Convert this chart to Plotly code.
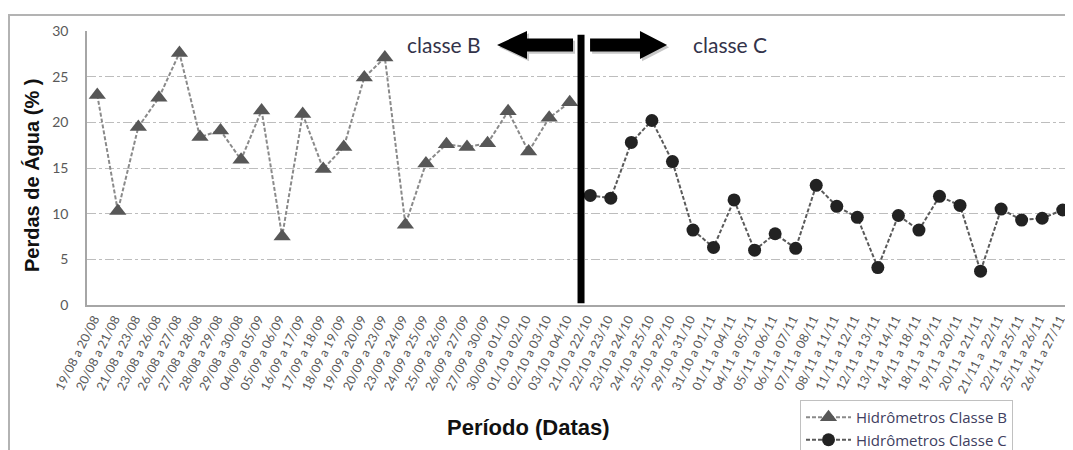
import plotly.graph_objects as go

categories = [
    "19/08 a 20/08", "20/08 a 21/08", "21/08 a 23/08", "23/08 a 26/08",
    "26/08 a 27/08", "27/08 a 28/08", "28/08 a 29/08", "29/08 a 30/08",
    "04/09 a 05/09", "05/09 a 06/09", "16/09 a 17/09", "17/09 a 18/09",
    "18/09 a 19/09", "19/09 a 20/09", "20/09 a 23/09", "23/09 a 24/09",
    "24/09 a 25/09", "25/09 a 26/09", "26/09 a 27/09", "27/09 a 30/09",
    "30/09 a 01/10", "01/10 a 02/10", "02/10 a 03/10", "03/10 a 04/10",
    "21/10 a 22/10", "22/10 a 23/10", "23/10 a 24/10", "24/10 a 25/10",
    "25/10 a 29/10", "29/10 a 31/10", "31/10 a 01/11", "01/11 a 04/11",
    "04/11 a 05/11", "05/11 a 06/11", "06/11 a 07/11", "07/11 a 08/11",
    "08/11 a 11/11", "11/11 a 12/11", "12/11 a 13/11", "13/11 a 14/11",
    "14/11 a 18/11", "18/11 a 19/11", "19/11 a 20/11", "20/11 a 21/11",
    "21/11 a \u00a022/11", "22/11 a 25/11", "25/11 a 26/11", "26/11 a 27/11",
]

cats_b = categories[:24]
cats_c = categories[24:]

classe_b = [23.0, 10.3, 19.5, 22.7, 27.6, 18.4, 19.1, 15.9, 21.3, 7.5, 20.9, 14.9,
            17.3, 24.9, 27.1, 8.8, 15.5, 17.6, 17.3, 17.7, 21.2, 16.8, 20.5, 22.2]
classe_c = [12.0, 11.7, 17.8, 20.2, 15.7, 8.2, 6.3, 11.5, 6.0, 7.8, 6.2, 13.1,
            10.8, 9.6, 4.1, 9.8, 8.2, 11.9, 10.9, 3.7, 10.5, 9.3, 9.5, 10.4]

y_ticks = [0, 5, 10, 15, 20, 25, 30]

FONT = "Lato"
TXT = "#595959"

# page body adds an 8px offset; figure is sized to fit the 1073x450 window
OFF = 8
W, H = 1073 - OFF, 450 - OFF
L, R, T = 87 - OFF, 0, 31 - OFF
B = H - (305 - OFF)
pw, ph = W - L - R, H - T - B


def px_x(p):
    return (p - OFF - L) / pw


def px_y(p):
    return (H - B - (p - OFF)) / ph


fig = go.Figure()
fig.add_trace(go.Scatter(
    x=cats_b, y=classe_b, mode="lines+markers", name="Hidrômetros Classe B",
    line=dict(color="#8a8a8a", width=2, dash="4px,2px"),
    marker=dict(symbol="triangle-up", size=15, color="#575757"),
))
fig.add_trace(go.Scatter(
    x=cats_c, y=classe_c, mode="lines+markers", name="Hidrômetros Classe C",
    line=dict(color="#5a5a5a", width=2, dash="4px,2px"),
    marker=dict(symbol="circle", size=13, color="#222222"),
))


def arrow_path(tail, tip, base, yc, hs, hh):
    return (f"M {tail} {yc - hs} L {base} {yc - hs} L {base} {yc - hh} "
            f"L {tip} {yc} L {base} {yc + hh} L {base} {yc + hs} L {tail} {yc + hs} Z")


yc = 28.47
shapes = [
    # outer chart border
    dict(type="rect", xref="paper", yref="paper", x0=px_x(9), x1=1.02, y0=-0.7, y1=px_y(15),
         line=dict(color="#b3b3b3", width=2), layer="below"),
    # white boxes behind the arrows
    dict(type="rect", xref="x", yref="y", x0=19.4, x1=23.2, y0=26.0, y1=30.5,
         fillcolor="white", line=dict(width=0), layer="above"),
    dict(type="rect", xref="x", yref="y", x0=23.9, x1=27.9, y0=26.0, y1=30.5,
         fillcolor="white", line=dict(width=0), layer="above"),
    # arrow shadows
    dict(type="path", xref="x", yref="y",
         path=arrow_path(23.26, 19.56, 21.02, yc - 0.25, 0.71, 1.53),
         fillcolor="#c8c8c8", line=dict(width=0)),
    dict(type="path", xref="x", yref="y",
         path=arrow_path(24.09, 27.84, 26.52, yc - 0.25, 0.71, 1.53),
         fillcolor="#c8c8c8", line=dict(width=0)),
    # arrows
    dict(type="path", xref="x", yref="y",
         path=arrow_path(23.16, 19.46, 20.92, yc, 0.71, 1.53),
         fillcolor="black", line=dict(width=0)),
    dict(type="path", xref="x", yref="y",
         path=arrow_path(23.99, 27.74, 26.42, yc, 0.71, 1.53),
         fillcolor="black", line=dict(width=0)),
    # divider
    dict(type="line", xref="x", yref="y", x0=23.55, x1=23.55, y0=0.2, y1=29.6,
         line=dict(color="black", width=7)),
]

annotations = [
    dict(text="classe B", x=16.9, y=yc, xref="x", yref="y", showarrow=False,
         xanchor="center", yanchor="middle",
         font=dict(family=FONT, size=21, color="#33334a")),
    dict(text="classe C", x=30.8, y=yc, xref="x", yref="y", showarrow=False,
         xanchor="center", yanchor="middle",
         font=dict(family=FONT, size=21, color="#33334a")),
    dict(text="<b>Perdas de Água (% )</b>", x=px_x(32), y=px_y(176), xref="paper", yref="paper",
         showarrow=False, textangle=-90, xanchor="center", yanchor="middle",
         font=dict(family="Liberation Sans", size=20, color="#111111")),
    dict(text="<b>Período (Datas)</b>", x=px_x(528), y=px_y(427), xref="paper", yref="paper",
         showarrow=False, xanchor="center", yanchor="middle",
         font=dict(family="Liberation Sans", size=22, color="#111111")),
]

fig.update_layout(
    width=W, height=H,
    margin=dict(l=L, r=R, t=T, b=B, autoexpand=False),
    paper_bgcolor="white", plot_bgcolor="white",
    shapes=shapes, annotations=annotations,
    showlegend=True,
    legend=dict(x=px_x(800), y=px_y(400), xanchor="left", yanchor="top",
                bgcolor="white", bordercolor="#c0c0c0", borderwidth=1,
                font=dict(family="Open Sans", size=15, color="#404060"),
                itemwidth=45, tracegroupgap=2),
    xaxis=dict(type="category", categoryorder="array", categoryarray=categories,
               range=[-0.5, 47.5], tickangle=-63, showgrid=False, automargin=False,
               tickfont=dict(family=FONT, size=12.5, color=TXT), ticklabelshift=-3,
               showline=True, linecolor="#a6a6a6", linewidth=2, ticks="", zeroline=False),
    yaxis=dict(range=[0, 30], tickvals=y_ticks, showgrid=True, gridcolor="#bdbdbd",
               griddash="dashdot", gridwidth=1, zeroline=False, automargin=False,
               showline=True, linecolor="#a6a6a6", linewidth=1.5, ticks="",
               ticklabelstandoff=14,
               tickfont=dict(family=FONT, size=14, color=TXT)),
)

fig.write_html("out.html")
